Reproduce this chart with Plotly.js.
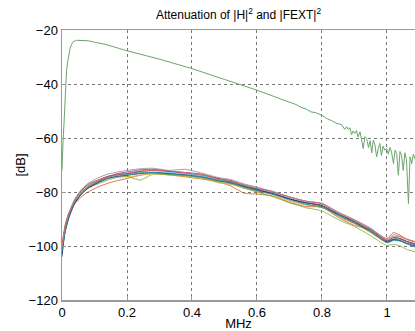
<!DOCTYPE html>
<html>
<head>
<meta charset="utf-8">
<script src="https://cdn.plot.ly/plotly-3.0.1.min.js"></script>
<style>html,body{margin:0;padding:0;background:#fff;}#chart{width:415px;height:331px;}</style>
</head>
<body>
<div id="chart"></div>
<script>
// |H|^2 attenuation (green)
var hx = [0, 0.001, 0.003, 0.006, 0.009, 0.011, 0.014, 0.0175, 0.021, 0.025, 0.03, 0.035, 0.045, 0.06, 0.081, 0.1, 0.132, 0.178, 0.2, 0.3, 0.4, 0.5, 0.6, 0.69, 0.72, 0.735, 0.752, 0.765, 0.78, 0.8, 0.815, 0.83, 0.845, 0.86, 0.87, 0.876, 0.881, 0.886, 0.891, 0.896, 0.901, 0.906, 0.911, 0.917, 0.922, 0.927, 0.932, 0.9375, 0.943, 0.948, 0.953, 0.958, 0.963, 0.968, 0.973, 0.978, 0.983, 0.988, 0.993, 0.999, 1.004, 1.009, 1.014, 1.02, 1.025, 1.03, 1.035, 1.04, 1.045, 1.05, 1.055, 1.06, 1.066, 1.071, 1.076, 1.081, 1.087];
var hy = [-72, -70, -62, -55, -46, -40.4, -35, -31.8, -29, -26.8, -25.2, -24.3, -23.8, -23.8, -24, -24.5, -25.3, -26.9, -27.7, -30.8, -34.3, -38.3, -42.3, -46.3, -47.6, -48.6, -49.3, -50.3, -50.6, -51.6, -52.8, -53.6, -54.6, -55, -56.8, -55.8, -56.9, -56.2, -58.8, -57.4, -58.3, -57.2, -59.6, -57.7, -60.5, -63.9, -59.5, -60.2, -63.5, -61, -65.5, -60.8, -62.5, -67, -64, -62, -66.5, -63, -64.5, -63.9, -66, -63.5, -65.2, -69.5, -64.5, -65.8, -73.8, -65, -66.4, -72, -65.5, -68, -84.3, -67, -69.5, -66, -68];

// |FEXT|^2 curves
var fx = [0, 0.005, 0.01, 0.02, 0.03, 0.04, 0.06, 0.08, 0.11, 0.14, 0.17, 0.2, 0.24, 0.28, 0.33, 0.38, 0.43, 0.48, 0.52, 0.56, 0.6, 0.65, 0.7, 0.75, 0.8, 0.85, 0.9, 0.95, 0.98, 1.0, 1.02, 1.04, 1.06, 1.087];
var fext1 = [-102, -97.5, -94, -89.5, -86.2, -83.8, -80.5, -78, -76, -74.5, -73.5, -73.2, -72.6, -72.8, -73.2, -73.8, -74.5, -75.6, -76.8, -78.3, -79.5, -80.5, -82.5, -84.5, -85.8, -88.2, -91, -94.8, -97.4, -98.8, -97.8, -98, -99, -100.2];
var fext2 = [-100, -95.5, -92, -88, -85.8, -84.2, -81.8, -80, -78.2, -76.8, -75.8, -75, -73.8, -73.2, -73.6, -74.4, -75.2, -76.2, -77.8, -80.4, -80.8, -81.5, -83.8, -85.4, -85.6, -89.4, -92.4, -94, -96.2, -97.2, -95, -96, -97.4, -98.4];
var fext3 = [-101.5, -97, -93, -88.8, -85.8, -83.2, -80, -78, -76.2, -74.8, -74.4, -74.4, -73.8, -73, -73.8, -74.2, -74.8, -76.6, -77.2, -78.4, -80, -81.6, -83.4, -84.8, -85.5, -89.2, -91.8, -95.2, -97.5, -98.6, -97.2, -97.5, -98.5, -99.5];
var fext4 = [-103, -98, -94.5, -90, -86.8, -84, -80.6, -78.4, -76.4, -74.4, -73.2, -72.6, -71.8, -71.6, -72.3, -73, -73.8, -75, -75.8, -77.4, -78.6, -80, -81.8, -83.4, -84.4, -87.8, -90.6, -93.8, -96.6, -98.2, -97.5, -97.4, -98.4, -99.6];
var fext5 = [-101, -97.2, -93.8, -89.2, -86.4, -83.8, -80.4, -78.6, -77, -75.6, -74.6, -74.2, -75.6, -73.4, -73.6, -74, -74.8, -76.2, -77, -78.6, -80, -81.8, -84, -85.8, -87, -90.2, -92.8, -96.2, -98.6, -99.8, -99.4, -100, -101.2, -102.2];
var fext6 = [-102.5, -98, -94.2, -89.6, -86.4, -83.8, -80.6, -78.6, -76.8, -75.2, -74.2, -73.8, -73, -72.6, -72.8, -73.2, -74, -75.5, -76.2, -77.6, -78.8, -80.4, -82.4, -83.8, -84.8, -88, -90.6, -93.8, -96.4, -98, -97, -97.3, -98.3, -99.3];
var fext7 = [-100.5, -96.2, -92.6, -88.2, -85.2, -82.8, -79.4, -77.2, -75.6, -74.2, -73.6, -73.2, -72.4, -72, -72.4, -72.8, -73.4, -75, -76.2, -77.8, -79, -80.6, -82.6, -84, -85, -88.2, -91, -94.2, -96.8, -98.2, -96.8, -97.2, -98.2, -99.2];
var fext8 = [-104, -98.5, -94.5, -89.8, -86.5, -84, -80.8, -78.6, -76.6, -75, -74.2, -73.8, -73.2, -72.8, -73.2, -73.6, -74.4, -75.8, -76.6, -78, -79.2, -80.8, -82.6, -84, -85.2, -88.6, -91.4, -94.6, -97.2, -98.6, -97.6, -98, -99, -100];
var fext9 = [-101, -96.8, -93.2, -88.6, -85.2, -82.4, -79, -76.8, -74.8, -73.4, -72.6, -72, -71.4, -71.2, -72, -71.6, -73, -74.6, -75.4, -77, -78.2, -80, -82, -83.4, -84.2, -87.4, -90.2, -93.4, -96, -97.6, -96.4, -96.6, -97.6, -98.6];
var fext10 = [-102, -97.8, -94, -89.4, -86, -83.4, -80.2, -78, -76, -74.6, -73.8, -73.6, -73, -72.8, -73.4, -73.8, -74.4, -75.6, -76.4, -78.2, -79.6, -81, -83, -84.6, -85.6, -88.8, -91.6, -94.8, -97.2, -98.8, -98, -98.2, -99.2, -100.4];
var fext11 = [-100.8, -96.4, -92.6, -88.2, -85.4, -82.8, -79.8, -77.6, -75.8, -74.4, -73.6, -73, -72.2, -71.8, -72.2, -72.8, -73.6, -75.2, -75.8, -77.2, -78.4, -79.8, -81.8, -83.4, -84.2, -87.6, -90.4, -93.6, -96.2, -97.6, -95.8, -96.4, -97.4, -98.4];
var fextCurves = [fext1, fext2, fext3, fext4, fext5, fext6, fext7, fext8, fext9, fext10, fext11];
var fextColors = ['#0072BD', '#D95319', '#EDB120', '#7E2F8E', '#77AC30', '#4DBEEE', '#A2142F', '#1f2f6b', '#8a8a8a', '#2a9d8f', '#e07070'];

var xTicks = [0, 0.2, 0.4, 0.6, 0.8, 1];
var xTickText = ['0', '0.2', '0.4', '0.6', '0.8', '1'];
var yTicks = [-120, -100, -80, -60, -40, -20];

var traces = [];
fextCurves.forEach(function (c, i) {
  traces.push({x: fx, y: c, type: 'scatter', mode: 'lines', line: {color: fextColors[i], width: 0.8, shape: 'spline', smoothing: 0.5}, hoverinfo: 'skip'});
});
traces.push({x: hx, y: hy, type: 'scatter', mode: 'lines', line: {color: '#6aa56a', width: 1}, hoverinfo: 'skip'});

var font = {family: 'Liberation Sans, Arial, sans-serif', size: 13, color: '#000'};
var layout = {
  width: 415, height: 331,
  margin: {l: 62, r: 0, t: 30, b: 31, pad: 0},
  paper_bgcolor: '#fff', plot_bgcolor: '#fff',
  showlegend: false,
  font: font,
  title: {text: 'Attenuation of |H|<sup>2</sup> and |FEXT|<sup>2</sup>', font: {family: font.family, size: 12, color: '#000'}, xref: 'paper', x: 0.5, xanchor: 'center', yref: 'container', y: 0.955, yanchor: 'middle'},
  xaxis: {
    range: [0, 1.0862], tickvals: xTicks, ticktext: xTickText,
    showgrid: true, gridcolor: '#555', griddash: 'dot', gridwidth: 0.8,
    zeroline: false, showline: true, linecolor: '#999', linewidth: 1.5, mirror: true,
    ticks: 'inside', ticklen: 4, tickcolor: '#999',
    tickfont: font,
    title: {text: 'MHz', font: font, standoff: 1}
  },
  yaxis: {
    range: [-120, -20], tickvals: yTicks,
    showgrid: true, gridcolor: '#555', griddash: 'dot', gridwidth: 0.8,
    zeroline: false, showline: true, linecolor: '#999', linewidth: 1.5, mirror: true,
    ticks: 'inside', ticklen: 4, tickcolor: '#999',
    tickfont: font,
    title: {text: '[dB]', font: font, standoff: 0}
  }
};
Plotly.newPlot('chart', traces, layout, {staticPlot: true, displayModeBar: false});
</script>
</body>
</html>
